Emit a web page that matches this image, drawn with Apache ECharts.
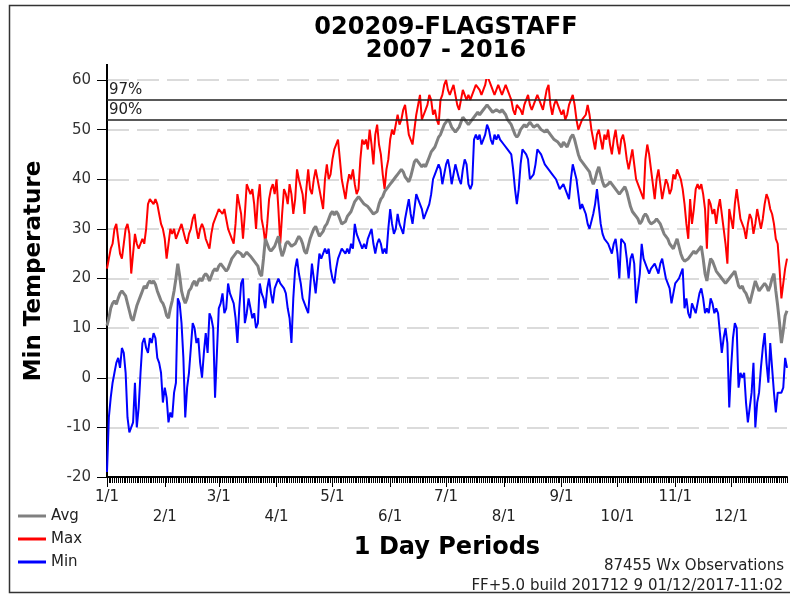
<!DOCTYPE html>
<html>
<head>
<meta charset="UTF-8"/>
<script type="text/javascript" src="https://cdn.jsdelivr.net/npm/echarts@6/dist/echarts.min.js"></script>
<title>020209-FLAGSTAFF</title>
<style>
    html, body { margin: 0; padding: 0; background: #fff; }
    #main { width: 790px; height: 594px; }
</style>
</head>
<body>
<div id="main"></div>
<script type="text/javascript">
    // days per month (leap year, 366 periods)
    var monthDays = [31, 29, 31, 30, 31, 30, 31, 31, 30, 31, 30, 31]
    var refLevels = [56, 52]
    var refNames = ['97%', '90%']
    var legendNames = ['Avg', 'Max', 'Min']

    // daily max of the min temperature
    var maxTemp = [
        22,24,26,27,30,31,28,25,24,27,30,31,29,21,25,29,27,26,27,28,27,30,35,36,36,35,36,35,33,31,30,
        28,24,27,30,29,30,28,29,30,31,31,28,27,29,30,32,33,30,28,30,31,30,28,27,26,29,31,32,33,34,
        34,33,34,32,30,29,28,27,31,37,35,33,28,33,39,38,37,38,35,30,36,39,32,30,27,31,36,38,39,37,40,
        34,27,33,38,37,35,39,37,33,36,42,40,40,37,33,38,42,38,37,40,42,40,38,36,34,40,43,40,41,44,46,
        47,48,44,40,38,36,39,41,40,42,39,37,38,44,48,47,48,46,50,47,43,49,51,47,45,41,38,42,44,48,50,
        49,51,53,51,52,54,55,52,49,48,47,50,53,55,57,52,53,54,55,57,56,53,54,52,51,56,57,59,60,58,
        57,58,59,57,55,54,56,58,57,56,57,56,57,58,59,59,58,57,58,59,61,60,59,58,57,58,59,58,57,58,59,
        58,57,56,54,53,55,55,54,53,55,56,57,55,54,55,56,57,56,55,54,56,58,59,55,53,55,56,55,54,53,
        54,52,53,55,56,57,55,52,50,51,52,52,53,55,53,50,48,46,49,50,48,46,49,48,50,47,45,48,50,47,45,
        48,49,47,44,42,44,46,43,40,39,38,37,36,44,47,45,42,39,36,40,42,39,36,38,40,39,37,38,41,40,
        42,41,40,38,35,31,28,36,31,34,38,39,38,39,37,34,26,36,35,33,34,31,34,36,33,30,27,23,34,32,
        30,35,38,35,32,31,30,28,31,33,32,29,31,34,32,30,32,35,37,36,34,33,31,28,27,22,16,19,22,24
    ]

    // daily average of the min temperature
    var avgTemp = [
        10.5,12.0,14.0,15.0,15.5,14.8,16.0,17.0,17.5,17.8,16.5,15.0,13.5,12.0,11.5,13.0,14.5,15.5,16.5,17.5,
        18.5,18.0,19.0,19.5,19.0,19.5,18.8,17.5,16.5,15.5,15.0,14.0,12.5,12.0,14.0,15.5,17.5,20.0,23.0,20.5,
        17.5,16.0,15.0,16.0,17.5,18.0,19.0,19.5,18.5,19.5,20.0,19.5,20.5,21.0,20.5,19.5,20.5,21.5,22.0,21.5,22.5,
        23.0,22.5,22.0,21.5,22.0,23.0,24.0,24.5,25.0,25.5,25.8,25.0,24.3,24.8,25.3,25.0,24.5,24.0,23.5,23.8,
        22.5,21.0,20.5,24.0,28.0,27.0,26.0,25.5,26.0,26.5,27.5,28.5,26.0,24.5,25.5,27.0,27.5,27.0,26.5,26.5,
        27.0,27.8,28.5,28.0,27.0,25.5,25.0,26.5,28.0,29.0,30.0,30.5,29.5,28.5,28.5,29.5,30.5,31.0,32.0,33.0,33.5,32.8,
        33.5,33.0,32.0,31.0,31.0,31.5,32.5,33.0,33.5,34.5,35.5,36.0,36.5,36.0,35.5,35.0,35.0,34.5,34.0,33.5,
        33.0,33.0,33.5,35.0,36.0,36.5,37.5,38.0,38.5,39.0,39.5,40.0,40.5,41.0,41.5,42.0,41.5,40.5,40.0,39.5,
        40.5,42.0,43.5,44.0,43.5,43.0,42.5,43.0,42.5,43.5,44.5,45.5,46.0,46.5,47.5,48.5,49.0,50.0,51.0,51.5,52.0,
        51.5,50.5,50.0,49.5,49.5,50.5,51.5,52.5,52.0,51.5,51.0,51.5,52.0,52.5,53.0,53.5,53.0,53.5,54.0,54.5,
        55.0,54.5,54.0,53.5,53.5,54.0,54.0,53.5,54.0,53.5,53.0,52.0,51.5,51.0,50.0,49.0,48.5,49.0,50.0,50.5,
        51.0,50.5,51.0,51.5,51.0,50.5,50.5,51.0,50.5,50.0,50.0,49.5,50.0,49.5,49.0,48.5,48.0,48.0,47.5,47.0,46.5,
        47.5,47.0,46.5,47.5,48.5,49.0,48.0,46.5,45.0,44.0,43.5,43.0,42.5,42.5,41.5,40.0,39.0,40.0,41.5,42.5,
        41.0,39.5,38.5,38.5,39.0,39.5,39.0,38.5,38.0,37.5,37.0,37.5,38.0,38.5,37.5,36.0,34.5,33.5,33.0,32.5,
        32.0,31.0,31.5,32.5,33.0,32.5,31.5,31.0,31.0,31.5,32.0,31.5,31.0,30.0,29.0,28.5,28.0,27.0,26.5,26.0,27.0,
        28.0,26.5,25.0,24.0,23.5,23.5,24.0,24.5,25.0,25.5,25.0,25.5,26.0,26.5,24.0,21.0,19.5,22.0,24.0,23.5,
        22.5,21.5,21.0,20.5,20.0,19.5,19.0,19.5,20.0,20.5,21.0,21.5,20.0,18.5,18.0,18.5,17.5,17.0,16.0,15.0,
        16.5,18.0,19.5,18.5,17.5,18.0,18.5,19.0,18.5,17.5,18.5,20.0,21.0,17.5,14.5,11.0,7.0,9.5,12.5,13.5
    ]

    // daily min of the min temperature
    var minTemp = [
        -19,-8,-4,-1,1,3,4,2,6,5,1,-8,-11,-10,-9,-1,-10,-6,1,7,8,6,5,8,7,9,8,4,3,1,-5,
        -2,-4,-9,-7,-8,-3,-1,16,15,11,4,-8,-2,1,6,11,10,7,8,3,0,5,9,5,13,12,10,-4,5,14,
        15,17,13,14,19,17,16,15,12,7,14,19,20,11,13,16,14,12,13,10,11,19,17,16,14,18,20,17,15,18,19,
        20,19,19,18,17,14,12,7,16,22,24,21,19,16,15,14,13,18,23,20,17,21,25,24,25,26,25,26,22,20,19,
        22,24,25,26,26,25,26,25,27,26,31,29,28,27,26,27,26,28,29,30,27,25,27,28,27,25,26,25,30,34,31,
        29,30,33,31,30,29,32,34,36,33,31,34,37,36,35,34,32,33,34,35,37,40,41,42,43,42,39,41,43,44,
        42,39,41,43,43,40,39,42,44,43,39,38,39,48,49,48,49,47,48,49,51,50,48,47,49,48,49,48,48,47,47,
        46,46,45,42,38,35,38,43,46,46,45,44,40,40,41,43,46,46,45,44,43,43,42,42,41,41,40,39,38,38,
        39,38,37,36,40,43,43,40,37,34,35,34,33,31,30,30,33,35,38,38,31,29,28,28,27,26,25,27,28,25,20,
        28,28,27,24,20,24,25,23,15,15,21,27,24,23,22,21,22,22,23,22,21,23,24,22,20,19,18,15,17,19,
        19,20,21,22,14,16,13,12,15,14,13,15,17,18,16,13,14,13,16,15,13,14,13,9,5,8,10,7,-6,2,
        8,11,10,-2,1,0,1,-5,-9,-6,-3,3,-10,-5,-3,2,6,9,3,-1,7,2,-3,-7,-3,-3,-3,-2,4,2
    ]

    var font = 'DejaVu Sans'
    var days = []
    for (var m = 0; m < 12; m++) {
        for (var d = 1; d <= monthDays[m]; d++) {
            days.push((m + 1) + '/' + d)
        }
    }

    function isMonthStart(i) {
        return days[i].split('/')[1] === '1'
    }

    function lineSeries(name, data, color, width) {
        return {
            name: name,
            type: 'line',
            data: data,
            showSymbol: false,
            symbol: 'none',
            xAxisIndex: 0,
            yAxisIndex: 0,
            lineStyle: {color: color, width: width},
            itemStyle: {color: color}
        }
    }

    var myChart = echarts.init(document.getElementById('main'))

    var maxSeries = lineSeries('Max', maxTemp, '#ff0000', 2)
    maxSeries.markLine = {
        silent: true,
        symbol: 'none',
        animation: false,
        lineStyle: {color: '#222', type: 'solid', width: 1.5},
        label: {position: 'insideStartTop', formatter: '{b}', color: '#222', fontFamily: font, fontSize: 15, distance: 2},
        data: refLevels.map(function (v, i) { return {yAxis: v, name: refNames[i]} })
    }

    var option = {
        animation: false,
        textStyle: {fontFamily: font},
        grid: [
            {left: 107, right: 3, top: 80, bottom: 117},
            {left: 107, right: 3, top: 80, bottom: 117}
        ],
        legend: {
            data: legendNames,
            orient: 'vertical',
            left: 13,
            top: 502,
            icon: 'rect',
            itemWidth: 28,
            itemHeight: 3,
            itemGap: 5,
            selectedMode: false,
            textStyle: {fontFamily: font, fontSize: 15, color: '#222', lineHeight: 18}
        },
        xAxis: [
            {
                type: 'category',
                gridIndex: 0,
                data: days,
                boundaryGap: false,
                axisLine: {onZero: false, lineStyle: {color: '#000', width: 2}},
                axisTick: {interval: function (i) { return isMonthStart(i) }, length: 10, lineStyle: {color: '#000'}},
                axisLabel: {
                    interval: function (i) { return isMonthStart(i) },
                    formatter: function (v) {
                        var mon = parseInt(v.split('/')[0], 10)
                        return mon % 2 === 0 ? '\n' + v : v
                    },
                    color: '#222',
                    fontFamily: font,
                    fontSize: 15,
                    lineHeight: 20,
                    margin: 10
                },
                splitLine: {show: false}
            },
            {
                type: 'category',
                gridIndex: 1,
                data: days,
                boundaryGap: false,
                axisLine: {show: false, onZero: false},
                axisTick: {interval: 0, length: 6, lineStyle: {color: '#000'}},
                axisLabel: {show: false},
                splitLine: {show: false}
            }
        ],
        yAxis: [
            {
                type: 'value',
                gridIndex: 0,
                min: -20,
                max: 60,
                interval: 10,
                axisLine: {show: true, lineStyle: {color: '#000', width: 2}},
                axisTick: {show: true, length: 10, lineStyle: {color: '#000'}},
                axisLabel: {color: '#333', fontFamily: font, fontSize: 15, margin: 16},
                splitLine: {show: true, lineStyle: {color: '#cfcfcf', type: [22, 8], width: 1.5}}
            },
            {
                type: 'value',
                gridIndex: 1,
                min: -20,
                max: 60,
                show: false,
                splitLine: {show: false}
            }
        ],
        graphic: [
            {type: 'rect', silent: true, shape: {x: 9.5, y: 5.5, width: 800, height: 587}, style: {fill: 'none', stroke: '#333', lineWidth: 1.5}},
            {type: 'line', silent: true, shape: {x1: 107, y1: 64, x2: 107, y2: 80}, style: {stroke: '#000', lineWidth: 2}},
            {type: 'text', x: 446, y: 28, style: {text: '020209-FLAGSTAFF', fontFamily: font, fontWeight: 'bold', fontSize: 24, fill: '#000', align: 'center', verticalAlign: 'middle'}},
            {type: 'text', x: 446, y: 50.5, style: {text: '2007 - 2016', fontFamily: font, fontWeight: 'bold', fontSize: 24, fill: '#000', align: 'center', verticalAlign: 'middle'}},
            {type: 'text', x: 34, y: 271, rotation: Math.PI / 2, style: {text: 'Min Temperature', fontFamily: font, fontWeight: 'bold', fontSize: 23, fill: '#000', align: 'center', verticalAlign: 'middle'}},
            {type: 'text', x: 447, y: 548, style: {text: '1 Day Periods', fontFamily: font, fontWeight: 'bold', fontSize: 24, fill: '#000', align: 'center', verticalAlign: 'middle'}},
            {type: 'text', x: 784, y: 566.5, style: {text: '87455 Wx Observations', fontFamily: font, fontSize: 15, fill: '#222', align: 'right', verticalAlign: 'middle'}},
            {type: 'text', x: 783, y: 586, style: {text: 'FF+5.0 build 201712 9 01/12/2017-11:02', fontFamily: font, fontSize: 15, fill: '#222', align: 'right', verticalAlign: 'middle'}}
        ],
        series: [
            maxSeries,
            lineSeries('Avg', avgTemp, '#808080', 3),
            lineSeries('Min', minTemp, '#0000ff', 2)
        ]
    }

    myChart.setOption(option)
</script>
</body>
</html>
